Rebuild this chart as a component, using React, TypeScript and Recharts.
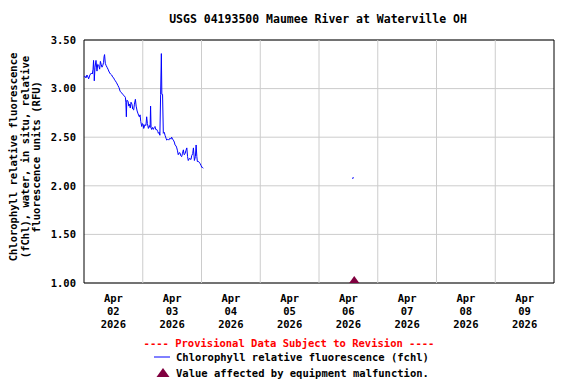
import {
  ComposedChart,
  Line,
  Scatter,
  XAxis,
  YAxis,
  CartesianGrid,
  ReferenceLine,
  ReferenceArea,
  Customized,
} from "recharts";

// hours since Apr 02 2026 00:00
const APR2_4_HOURS = [
  0.0, 0.3, 0.8, 1.2, 1.6, 1.9, 2.4, 3.0, 3.4, 3.7, 3.9, 4.1, 4.2, 4.5, 4.9, 5.3,
  5.6, 6.0, 6.4, 6.7, 7.0, 7.35, 7.7, 8.0, 8.2, 8.4, 8.7, 9.0, 9.4, 9.8, 10.3,
  10.8, 11.3, 11.7, 12.1, 12.5, 12.8, 13.3, 13.9, 14.3, 14.8, 15.3, 15.8, 16.3,
  16.9, 17.1, 17.3, 17.5, 18.0, 18.3, 18.6, 18.9, 19.2, 19.6, 19.9, 20.3, 20.6,
  21.0, 21.3, 21.7, 22.1, 22.6, 22.9, 23.2, 23.6, 23.9, 24.2, 24.4, 24.9, 25.3,
  25.6, 25.9, 26.3, 26.7, 27.0, 27.2, 27.4, 27.6, 28.0, 28.3, 28.7, 29.0, 29.3,
  29.7, 30.1, 30.4, 30.7, 31.0, 31.3, 31.6, 31.8, 32.1, 32.4, 32.8, 33.1, 33.5,
  33.8, 34.2, 34.6, 35.1, 35.5, 35.8, 36.2, 36.5, 36.9, 37.2, 37.6, 37.9, 38.2,
  38.5, 38.9, 39.2, 39.5, 39.9, 40.2, 40.6, 40.9, 41.3, 41.6, 42.0, 42.3, 42.6,
  43.0, 43.3, 43.7, 44.0, 44.4, 44.7, 45.1, 45.5, 45.8, 46.1, 46.3, 46.8, 47.4,
  47.8, 48.1, 48.4, 48.7,
];
const APR2_4_FCHL = [
  3.12, 3.13, 3.11, 3.14, 3.12, 3.1, 3.14, 3.16, 3.15, 3.2, 3.29, 3.19, 3.08,
  3.22, 3.29, 3.18, 3.25, 3.24, 3.2, 3.28, 3.25, 3.22, 3.24, 3.27, 3.33, 3.35,
  3.26, 3.24, 3.22, 3.2, 3.17, 3.15, 3.14, 3.12, 3.11, 3.09, 3.08, 3.06, 3.03,
  3.01, 2.97, 2.96, 2.94, 2.93, 2.91, 2.86, 2.71, 2.88, 2.87, 2.82, 2.84, 2.8,
  2.86, 2.84, 2.79, 2.78, 2.84, 2.89, 2.82, 2.77, 2.74, 2.71, 2.73, 2.66, 2.61,
  2.64, 2.63, 2.59, 2.63, 2.62, 2.71, 2.64, 2.59, 2.62, 2.6, 2.82, 2.6, 2.58,
  2.6, 2.58, 2.6, 2.61, 2.58, 2.58, 2.56, 2.54, 2.55, 2.52, 2.94, 3.36, 2.94,
  2.94, 2.54, 2.55, 2.52, 2.49, 2.47, 2.48, 2.47, 2.49, 2.48, 2.5, 2.48, 2.47,
  2.45, 2.42, 2.41, 2.39, 2.36, 2.32, 2.34, 2.34, 2.31, 2.3, 2.33, 2.37, 2.32,
  2.33, 2.36, 2.39, 2.3, 2.26, 2.28, 2.28, 2.27, 2.31, 2.33, 2.39, 2.26, 2.3,
  2.42, 2.3, 2.25, 2.25, 2.23, 2.21, 2.19, 2.19, 2.18,
];
const APR6_HOURS = [109.75, 110.0];
const APR6_FCHL = [2.07, 2.09];

const MALFUNCTION_HOURS = [110.4];
const MALFUNCTION_VALUES = [1.0];

const DAY_NOONS = [12, 36, 60, 84, 108, 132, 156, 180];
const MIDNIGHTS = [24, 48, 72, 96, 120, 144, 168];
const Y_TICKS = [1.0, 1.5, 2.0, 2.5, 3.0, 3.5];

const TITLE = "USGS 04193500 Maumee River at Waterville OH";
const Y_LABEL = [
  "Chlorophyll relative fluorescence",
  "(fChl), water, in situ, relative",
  "fluorescence units (RFU)",
];

const FONT = "'DejaVu Sans Mono', monospace";

const rows = [
  ...APR2_4_HOURS.map((h, i) => ({ h, v: APR2_4_FCHL[i] })),
  { h: 49, v: null },
  ...APR6_HOURS.map((h, i) => ({ h, v: APR6_FCHL[i] })),
];
const malfunction = MALFUNCTION_HOURS.map((h, i) => ({
  h,
  m: MALFUNCTION_VALUES[i],
}));

const DateTick = ({ x, y, payload }: any) => {
  const day = 2 + Math.floor(payload.value / 24);
  return (
    <text
      x={x}
      y={y}
      textAnchor="middle"
      fontFamily={FONT}
      fontSize={10.5}
      fontWeight="bold"
      fill="#000"
    >
      <tspan x={x} dy={19}>Apr</tspan>
      <tspan x={x} dy={13}>{String(day).padStart(2, "0")}</tspan>
      <tspan x={x} dy={13}>2026</tspan>
    </text>
  );
};

const Triangle = ({ cx, cy }: any) => (
  <polygon
    points={`${cx - 6.5},${cy + 2} ${cx + 6.5},${cy + 2} ${cx},${cy - 7}`}
    fill="#80003F"
  />
);

const Texts = () => (
  <g fontFamily={FONT} fill="#000">
    <text x={318} y={23} textAnchor="middle" fontSize={11.5} fontWeight="bold">
      {TITLE}
    </text>
    {Y_LABEL.map((t, i) => (
      <text
        key={t}
        x={0}
        y={0}
        transform={`translate(${17 + i * 11.5},157) rotate(-90)`}
        textAnchor="middle"
        fontSize={10.5}
        fontWeight="bold"
      >
        {t}
      </text>
    ))}
    <text x={289} y={347} textAnchor="middle" fontSize={10.5} fontWeight="bold" fill="#ff0000">
      ---- Provisional Data Subject to Revision ----
    </text>
    <line x1={154} x2={170} y1={357} y2={357} stroke="#0000ff" strokeWidth={1} />
    <text x={176} y={361} fontSize={10.5} fontWeight="bold">
      Chlorophyll relative fluorescence (fchl)
    </text>
    <polygon points="156.5,377 169.5,377 163,368" fill="#80003F" />
    <text x={176} y={377} fontSize={10.5} fontWeight="bold">
      Value affected by equipment malfunction.
    </text>
  </g>
);

export default function App() {
  return (
    <div style={{ position: "absolute", left: 0, top: 0, background: "#fff" }}>
      <ComposedChart
        width={576}
        height={384}
        data={rows}
        margin={{ top: 40, right: 22, bottom: 0, left: 0 }}
      >
        <CartesianGrid vertical={false} stroke="#cccccc" />
        {MIDNIGHTS.map((m) => (
          <ReferenceLine key={m} x={m} stroke="#cccccc" />
        ))}
        <XAxis
          dataKey="h"
          type="number"
          domain={[0, 192]}
          ticks={DAY_NOONS}
          interval={0}
          height={101}
          axisLine={false}
          tickLine={false}
          tickSize={0}
          tickMargin={0}
          tick={<DateTick />}
          allowDataOverflow
        />
        <YAxis
          type="number"
          domain={[1, 3.5]}
          ticks={Y_TICKS}
          width={84}
          axisLine={false}
          tickLine={false}
          tickFormatter={(v: number) => v.toFixed(2)}
          tick={{
            fontFamily: FONT,
            fontSize: 10.5,
            fontWeight: "bold",
            fill: "#000",
          }}
          allowDataOverflow
        />
        <ReferenceArea
          x1={0}
          x2={192}
          y1={1}
          y2={3.5}
          fill="none"
          fillOpacity={0}
          stroke="#000"
          strokeWidth={1}
        />
        <Line
          dataKey="v"
          type="linear"
          stroke="#0000ff"
          strokeWidth={1}
          dot={false}
          activeDot={false}
          isAnimationActive={false}
        />
        <Scatter
          data={malfunction}
          dataKey="m"
          fill="#80003F"
          shape={<Triangle />}
          isAnimationActive={false}
        />
        <Customized component={<Texts />} />
      </ComposedChart>
    </div>
  );
}
